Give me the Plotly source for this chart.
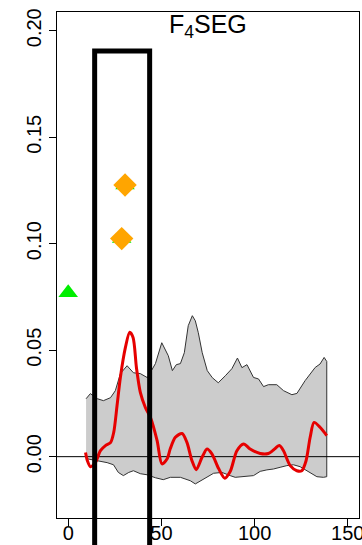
import plotly.graph_objects as go

# Null envelope (upper / lower bounds of the shaded band)
band_x_upper = [9.6, 11.9, 15.7, 18.9, 22.7, 25.3, 28.0, 31.6, 35.0, 38.7, 42.5, 46.8, 50.2, 53.7,
                55.9, 58.0, 60.2, 62.3, 64.4, 66.6, 68.2, 69.8, 71.9, 74.6, 77.3, 80.5, 84.3, 87.8,
                90.8, 93.2, 95.9, 99.4, 102.1, 104.8, 107.4, 111.9, 115.5, 120.0, 122.7, 127.1,
                132.5, 135.1, 137.3, 138.7]
band_upper = [0.0272, 0.0296, 0.0272, 0.0263, 0.0277, 0.0310, 0.0390, 0.0427, 0.0394, 0.0390,
              0.0371, 0.0437, 0.0535, 0.0474, 0.0404, 0.0432, 0.0437, 0.0488, 0.0615, 0.0662,
              0.0638, 0.0582, 0.0488, 0.0404, 0.0371, 0.0347, 0.0380, 0.0413, 0.0463, 0.0418,
              0.0432, 0.0372, 0.0365, 0.0329, 0.0338, 0.0338, 0.0310, 0.0291, 0.0297, 0.0357,
              0.0419, 0.0435, 0.0466, 0.0447]

band_x_lower = [9.6, 15.5, 20.9, 24.3, 26.9, 29.6, 32.5, 35.0, 38.7, 42.3, 46.8, 51.0, 54.8, 60.2,
                65.5, 68.2, 70.9, 73.5, 78.0, 82.5, 86.9, 89.6, 94.1, 99.4, 103.0, 106.6, 110.1,
                113.7, 117.3, 120.8, 124.4, 129.8, 133.4, 136.9, 138.7]
band_lower = [-0.0009, -0.0019, -0.0028, -0.0038, -0.0074, -0.0089, -0.0074, -0.0066, -0.0080,
              -0.0085, -0.0099, -0.0108, -0.0097, -0.0097, -0.0113, -0.0128, -0.0113, -0.0100,
              -0.0078, -0.0074, -0.0089, -0.0097, -0.0094, -0.0089, -0.0069, -0.0062, -0.0058,
              -0.0050, -0.0042, -0.0038, -0.0047, -0.0074, -0.0094, -0.0097, -0.0094]

# Observed statistic
obs_x = [9.3, 10.3, 11.9, 14.6, 17.3, 20.0, 22.7, 24.4, 26.2, 28.0, 30.7, 33.0, 34.8, 36.6, 38.7,
         41.4, 44.1, 47.7, 50.3, 53.0, 54.8, 57.5, 61.1, 63.7, 66.4, 68.7, 71.8, 74.5, 77.1, 80.7,
         84.0, 86.9, 90.5, 94.1, 97.6, 103.0, 107.4, 110.1, 113.3, 115.5, 119.1, 122.7, 125.3,
         127.6, 129.8, 131.9, 135.1, 138.7]
obs_y = [0.0020, -0.0019, -0.0047, -0.0027, 0.0028, 0.0052, 0.0066, 0.0113, 0.0239, 0.0372, 0.0513,
         0.0584, 0.0560, 0.0419, 0.0302, 0.0231, 0.0185, 0.0075, -0.0034, -0.0011, 0.0038, 0.0091,
         0.0109, 0.0067, -0.0019, -0.0061, -0.0003, 0.0036, 0.0013, -0.0056, -0.0101, -0.0070,
         0.0028, 0.0060, 0.0036, 0.0015, 0.0015, 0.0031, 0.0052, 0.0028, -0.0042, -0.0066,
         -0.0066, -0.0019, 0.0091, 0.0161, 0.0138, 0.0099]

# Point estimates
tri_x = [0.0, 30.5, 28.7]
tri_y = [0.077, 0.1276, 0.1024]
dia_x = [30.5, 28.7]
dia_y = [0.1276, 0.1024]

# Highlighted window
box_x = [14.2, 43.7]
box_top = 0.1905

x_range = [-6, 156]
y_range = [-0.0288, 0.2088]
x_ticks = [0, 50, 100, 150]
y_ticks = [0.0, 0.05, 0.10, 0.15, 0.20]
title_text = "F<sub>4</sub>SEG"

FONT = "Liberation Sans, Arial, sans-serif"

fig = go.Figure()

fig.add_trace(go.Scatter(
    x=band_x_upper + band_x_lower[::-1],
    y=band_upper + band_lower[::-1],
    fill="toself", fillcolor="#cccccc",
    mode="lines", line=dict(color="#333333", width=1),
    hoverinfo="skip", showlegend=False))

fig.add_trace(go.Scatter(
    x=x_range, y=[0, 0], mode="lines",
    line=dict(color="black", width=1), showlegend=False))

fig.add_trace(go.Scatter(
    x=obs_x, y=obs_y, mode="lines",
    line=dict(color="#e60000", width=3, shape="spline", smoothing=0.8),
    showlegend=False))

fig.add_trace(go.Scatter(
    x=tri_x, y=tri_y, mode="markers",
    marker=dict(symbol="triangle-up", size=17, color="#00ee00", line=dict(width=0)),
    cliponaxis=False, showlegend=False))

fig.add_trace(go.Scatter(
    x=dia_x, y=dia_y, mode="markers",
    marker=dict(symbol="diamond", size=18, color="#ffa500", line=dict(width=0)),
    cliponaxis=False, showlegend=False))

# Window rectangle: open at the bottom, running past the plotting region
top_dom = (box_top - y_range[0]) / (y_range[1] - y_range[0])
fig.add_shape(type="path",
              path=f"M{box_x[0]},-0.3 L{box_x[0]},{top_dom} L{box_x[1]},{top_dom} L{box_x[1]},-0.3",
              xref="x", yref="y domain",
              line=dict(color="black", width=5), layer="above")

fig.add_annotation(text=title_text, xref="x domain", yref="y domain", x=0.5, y=1,
                   yanchor="top", showarrow=False, font=dict(family=FONT, size=25, color="black"),
                   yshift=4)

axis_common = dict(showline=True, mirror=True, linecolor="black", linewidth=1,
                   ticks="outside", ticklen=7, tickwidth=1, tickcolor="black",
                   showgrid=False, zeroline=False, automargin=False,
                   ticklabeloverflow="allow",
                   tickfont=dict(family=FONT, size=20, color="black"))

fig.update_xaxes(range=x_range, tickvals=x_ticks, ticklabelstandoff=-10, **axis_common)
fig.update_yaxes(range=y_range, tickvals=y_ticks, tickformat=".2f", tickangle=-90, **axis_common)

fig.update_layout(width=362, height=545,
                  margin=dict(l=57, r=3, t=12, b=27),
                  paper_bgcolor="white", plot_bgcolor="white")

fig.write_html("out.html")
